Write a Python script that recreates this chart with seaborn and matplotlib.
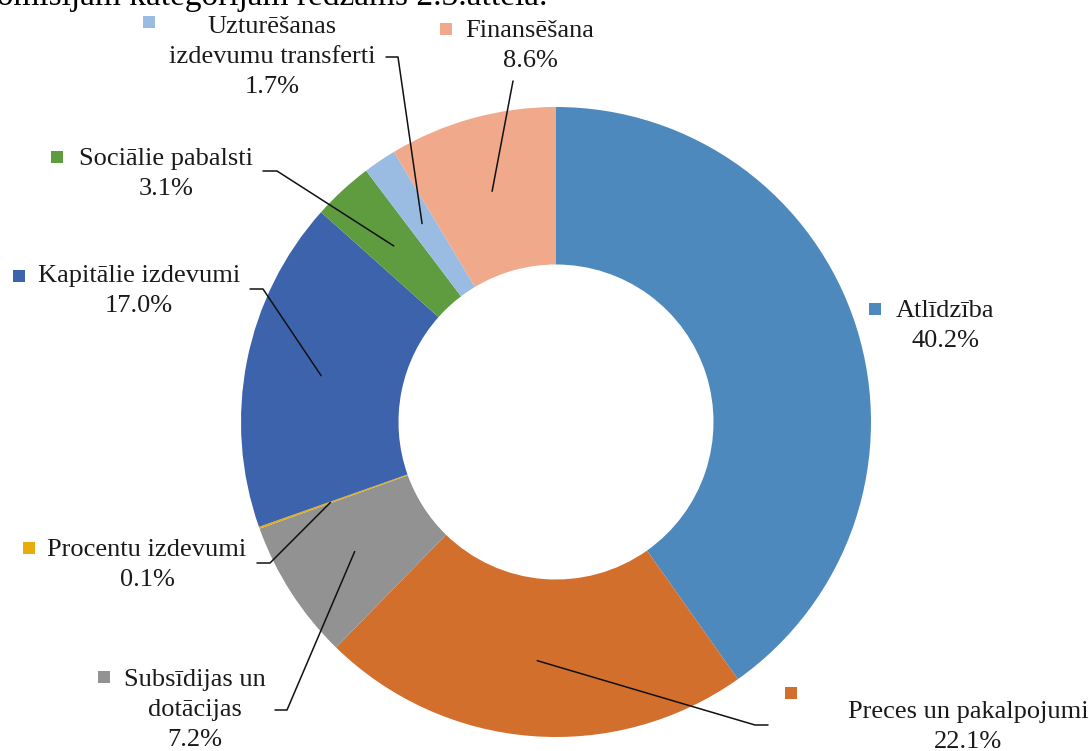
import matplotlib
matplotlib.use("Agg")
import numpy as np
import matplotlib.pyplot as plt
import seaborn as sns

# dati
categories = ["Atlīdzība", "Preces un pakalpojumi", "Subsīdijas un\ndotācijas",
              "Procentu izdevumi", "Kapitālie izdevumi", "Sociālie pabalsti",
              "Uzturēšanas\nizdevumu transferti", "Finansēšana"]
shares = [40.2, 22.1, 7.2, 0.1, 17.0, 3.1, 1.7, 8.6]
slice_colors = ["#4E89BD", "#D36F2C", "#929292", "#E5AD0E",
                "#3D63AD", "#5F9B3F", "#9BBCE2", "#F0A98A"]

# izkārtojums (attēla pikseļos, y uz leju)
W, H = 1089, 751
CX, CY, R = 556, 422, 315
# teksta bloka centrs, atslēgas kvadrāts, līnijas sākums (None = bez līnijas)
label_pos = [(945, 326), (968, 727), (195, 710), (147, 565),
             (139, 291), (166, 174), (272, 57), (530, 46)]
key_pos = [(875, 309), (791, 693), (104, 677), (29, 548),
           (19, 276), (57, 157), (149, 22), (446, 29)]
leader_pts = [None,
              [(768, 725), (755, 725)],
              [(275, 710), (287, 710)],
              [(257, 563), (270, 563)],
              [(250, 289), (263, 289)],
              [(263, 171), (277, 171)],
              [(386, 57), (398, 57)],
              [(513, 81)]]

sns.set_style("white")
plt.rcParams["font.family"] = ["Liberation Serif", "DejaVu Serif"]

fig = plt.figure(figsize=(W / 100, H / 100), dpi=100)
ax = fig.add_axes([0, 0, 1, 1])

# y ass apgriezta -> counterclock=True dod pulksteņrādītāja virzienu attēlā
wedges, _ = ax.pie(shares, colors=slice_colors, startangle=-90, counterclock=True,
                   radius=R, center=(CX, CY),
                   wedgeprops=dict(width=R * 0.5, linewidth=0))

ax.set_xlim(0, W)
ax.set_ylim(H, 0)
ax.set_aspect("equal")
ax.axis("off")

# nogrieztā teksta rinda augšā
ax.text(547, 5, "komisijām kategorijām redzams 2.3.attēlā.", fontsize=24,
        ha="right", va="baseline", color="black")

for i, w in enumerate(wedges):
    pct = f"{shares[i]:.1f}%"
    lx, ly = label_pos[i]
    ax.text(lx, ly, categories[i] + "\n" + pct, fontsize=19, ha="center",
            va="center", multialignment="center", linespacing=1.45, color="#1a1a1a")
    kx, ky = key_pos[i]
    ax.scatter([kx], [ky], marker="s", s=80, color=slice_colors[i], linewidths=0)

    if leader_pts[i] is None:
        continue
    mid = np.deg2rad((w.theta1 + w.theta2) / 2)
    ex = CX + 0.76 * R * np.cos(mid)
    ey = CY + 0.76 * R * np.sin(mid)
    pts = leader_pts[i] + [(ex, ey)]
    ax.plot([p[0] for p in pts], [p[1] for p in pts], color="#111111", lw=1.1)

fig.savefig("out.png", dpi=100)
